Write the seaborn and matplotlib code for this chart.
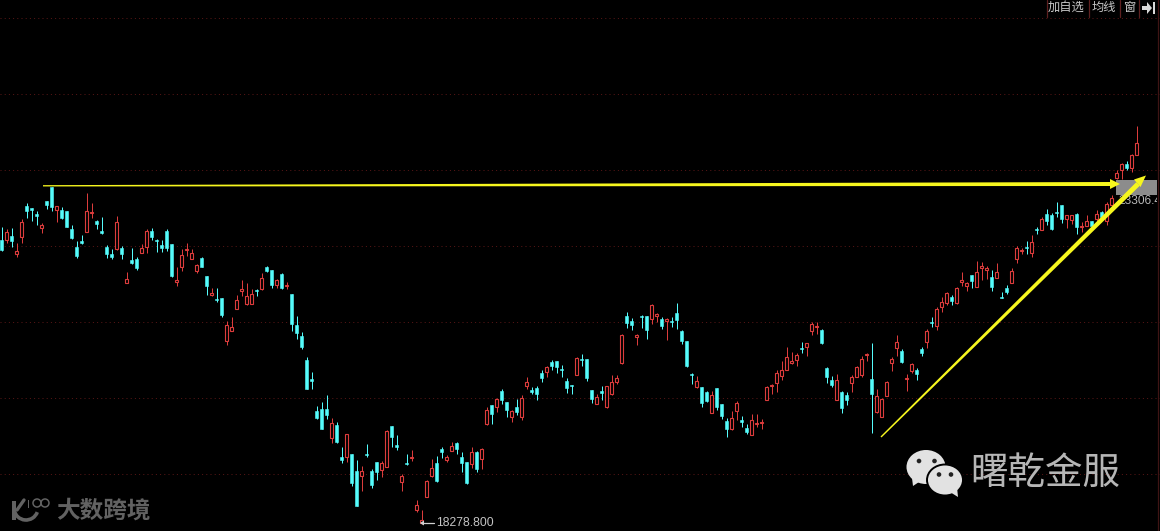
import numpy as np
import pandas as pd
import seaborn as sns
import matplotlib
matplotlib.use("Agg")
import matplotlib.pyplot as plt
from matplotlib.patches import Ellipse, Polygon, Rectangle, Arc

# ---------- data: daily index candles ----------
highs = [22700,22660,22675,22450,22810,23050,22985,22930,22750,23085,23290,23010,22990,22935,22725,22485,22575,23205,23055,22800,22845,22420,22365,22860,22410,22020,22380,22245,22440,22660,22680,22515,22500,22665,22440,22095,22365,22455,22365,22140,22245,21960,21780,21780,21630,21285,21345,21675,21900,21855,21765,21765,22005,22110,22050,21915,22005,21870,21690,21360,
 21120,20740,20520,20010,20070,20175,19830,19770,19395,19590,19290,19200,19110,19440,19065,19170,19185,19650,19710,19575,18990,19290,19350,18600,18450,18900,19215,19260,19395,19275,19470,19470,19320,19170,19395,19335,19380,19995,20025,20130,
 20265,20070,19950,20115,20175,20445,20295,20310,20550,20610,20700,20685,20625,20430,20325,20745,20790,20715,20250,20190,20310,20310,20475,20475,21090,21420,21330,21090,21375,21360,21540,21405,21345,21330,21345,21555,21150,20985,20505,20460,20295,20235,20235,20280,20040,19830,19935,20085,19860,19740,19890,19890,19815,20310,20340,20550,
 20685,20895,20820,20805,20970,20955,21270,21270,21165,20595,20460,20490,20235,20220,20475,20610,20760,20805,20955,20265,20130,20385,20745,21075,20865,20490,20655,20580,20895,21165,21345,21495,21645,21720,21675,21795,22020,21870,
 21975,22185,22170,22110,22050,22155,21720,21825,22080,22410,22380,22485,22575,22695,22845,22965,22905,23070,23025,22875,22875,22905,22770,22875,22785,22950,22935,23070,23175,23550,23655,23685,23790,24210]
lows = [22335,22460,22400,22250,22460,22835,22790,22725,22610,22970,22940,22775,22810,22700,22510,22235,22440,22620,22835,22665,22585,22235,22220,22350,22220,21855,22140,22055,22305,22305,22500,22320,22325,22335,21945,21810,22035,22260,22215,22005,22095,21675,21660,21570,21345,20925,21130,21465,21660,21525,21540,21660,21750,22020,21780,21780,21765,21765,21135,21015,
 20870,20270,20270,19815,19660,19815,19460,19460,19155,19170,18810,18515,18735,19245,18780,18900,18945,19095,19395,19350,18735,19125,19185,18420,18240,18645,18945,18870,19230,19170,19335,19290,19020,18840,19080,19020,19065,19725,19740,19920,
 20040,19845,19770,19875,19800,20265,20190,20100,20370,20445,20550,20505,20445,20205,20190,20475,20610,20385,20055,20040,20100,19980,20175,20340,20640,21180,21150,20925,21180,21015,21240,21270,21165,21000,21195,21165,20940,20595,20340,20280,19995,20070,19905,19950,19815,19545,19650,19800,19695,19590,19575,19695,19665,20100,20190,20220,
 20400,20550,20640,20610,20805,20760,21075,21090,20940,20355,20295,20100,19905,20025,20220,20445,20445,20685,19605,19905,19845,20160,20535,20760,20655,20235,20505,20400,20760,20880,21195,21150,21420,21525,21525,21540,21810,21735,
 21780,21795,21900,21915,21735,21930,21630,21690,21855,22155,22290,22290,22245,22590,22650,22725,22650,22845,22755,22680,22740,22590,22620,22710,22680,22770,22800,22725,23000,23415,23415,23550,23520,23775]
body_top = [22500,22620,22560,22335,22770,23010,22975,22885,22725,23085,23290,23010,22950,22935,22665,22395,22490,22935,22920,22790,22635,22395,22295,22770,22380,21915,22200,22215,22380,22635,22635,22500,22425,22635,22440,21900,22275,22370,22305,22125,22230,21960,21705,21615,21630,21225,21195,21600,21765,21660,21690,21750,21930,22095,22050,21900,21990,21825,21690,21225,
 21060,20700,20415,19935,19965,19965,19755,19725,19245,19590,19290,19035,19035,19290,19035,19170,19155,19635,19710,19425,18960,19155,19250,18525,18300,18885,19080,19155,19365,19245,19410,19455,19245,19170,19320,19320,19365,19950,20025,20115,
 20235,20070,19935,19995,20130,20370,20245,20280,20505,20595,20670,20685,20565,20385,20325,20730,20715,20715,20250,20145,20235,20310,20370,20430,21075,21360,21285,21075,21360,21360,21525,21385,21315,21315,21285,21405,21135,20985,20490,20385,20295,20220,20175,20280,20040,19785,19830,20055,19800,19680,19800,19755,19770,20295,20330,20505,
 20550,20745,20685,20775,20880,20955,21240,21210,21150,20580,20400,20400,20220,20175,20445,20595,20715,20785,20415,20160,20115,20370,20715,20970,20835,20430,20640,20550,20865,21135,21270,21465,21570,21705,21645,21780,21900,21855,
 21975,22020,22110,22080,21945,22020,21645,21780,22035,22380,22350,22395,22470,22665,22815,22890,22875,22920,23025,22875,22875,22890,22710,22785,22785,22890,22920,23040,23130,23505,23640,23640,23775,23955]
body_bottom = [22350,22500,22485,22290,22550,22940,22950,22865,22680,23025,23000,22945,22835,22700,22530,22260,22455,22620,22900,22740,22600,22295,22245,22365,22290,21855,22155,22080,22305,22395,22545,22480,22380,22380,21960,21870,22095,22350,22215,22035,22095,21810,21675,21600,21375,20985,21135,21465,21735,21540,21540,21730,21765,22035,21825,21825,21780,21805,21240,21105,
 20890,20270,20390,19830,19670,19875,19530,19470,19200,19245,18855,18515,18960,19275,18825,19020,19050,19095,19545,19395,18870,19140,19235,18450,18250,18645,18960,18885,19320,19200,19335,19365,19155,18855,19140,19065,19215,19740,19890,19995,
 20100,19950,19845,19920,19845,20310,20225,20190,20430,20520,20610,20595,20545,20280,20305,20475,20695,20430,20115,20040,20210,19995,20190,20370,20655,21255,21225,21050,21340,21150,21315,21365,21210,21285,21265,21300,20985,20610,20470,20295,20055,20085,19905,19995,19860,19665,19665,19935,19765,19620,19575,19740,19755,20100,20315,20355,
 20460,20550,20655,20700,20865,20895,21135,21195,20955,20445,20325,20100,19980,20100,20355,20445,20475,20770,20190,19920,19845,20160,20655,20880,20670,20410,20535,20490,20805,20970,21250,21210,21495,21555,21585,21555,21870,21810,
 21885,21795,22085,22050,21795,21930,21630,21720,21855,22215,22335,22375,22305,22650,22650,22785,22665,22905,22815,22815,22800,22695,22695,22710,22710,22815,22850,22785,23025,23430,23550,23580,23580,23775]
direction = list(
 "CRCRRCCCRCCRCCCCCRRCCCCRCRCCRRCCCCCRRRRRCCRCCRRRRRRCRCCRCRCC"
 "CCCCCCRCCRCCRCCCRRCCRCRRRRRCCRRCCCRCRRCR"
 "CCRCRRCCCRCCCCCRCCCRCRRRRCCRCCRRCRCCCCCRCCRCCCRRCCRRRRRR"
 "RRRRCRRRCCCRCCRRRRCRRRRRCRRCCRCRRRCRRR"
 "CRRRCRCCRRRCRCRCCCCRRCRRCRCRRRRCRR")
grid_levels = [25830, 24690, 23550, 22410, 21270, 20130, 18990]
low_label = "18278.800"
last_label = "23306.4"
toolbar_labels = ["加自选", "均线", "窗"]
brand_cn = "曙乾金服"
brand_logo = "大数跨境"

CYAN, RED = "#55FCFC", "#DC3C3C"
GRID = "#581616"

sns.set_theme(style="dark", rc={"figure.facecolor": "black", "axes.facecolor": "black"})
plt.rcParams["font.family"] = ["Noto Sans CJK SC", "DejaVu Sans"]

df = pd.DataFrame({"i": np.arange(len(highs)), "high": highs, "low": lows,
                   "top": body_top, "bottom": body_bottom, "dir": direction})
df["size"] = df["top"] - df["bottom"]

fig = plt.figure(figsize=(11.6, 5.31), dpi=100)
ax = fig.add_axes([0, 0, 1, 1])
ax.set_axisbelow(True)
for d, col in (("C", CYAN), ("R", RED)):
    s = df[df["dir"] == d]
    ax.vlines(s["i"], s["low"], s["high"], color=col, lw=0.72, zorder=2)
    if d == "C":
        sns.barplot(x=s["i"].values, y=s["size"].values, bottom=s["bottom"].values, ax=ax,
                    native_scale=True, color=col, saturation=1, width=0.64, errorbar=None,
                    edgecolor=col, linewidth=0.4, zorder=3)
    else:
        sns.barplot(x=s["i"].values, y=s["size"].values, bottom=s["bottom"].values, ax=ax,
                    native_scale=True, color="black", saturation=1, width=0.56, errorbar=None,
                    edgecolor=col, linewidth=0.8, zorder=3)
ax.set_xlim(-0.3, 231.7)
ax.set_ylim(18135, 26100)
ax.set_xticks([])
ax.set_yticks(grid_levels)
ax.tick_params(left=False, labelleft=False, bottom=False, labelbottom=False)
ax.set_xlabel(""); ax.set_ylabel("")
ax.grid(False)
ax.yaxis.grid(True, color=GRID, lw=0.72, ls=(0, (1.0, 3.2)))
for sp in ax.spines.values():
    sp.set_visible(False)

# ---------- overlay in picture units: toolbar, price tags, hand-drawn arrows, watermarks ----------
ov = fig.add_axes([0, 0, 1, 1], facecolor="none")
ov.set_xlim(0, 1160); ov.set_ylim(531, 0); ov.axis("off")

for x in (1047, 1088.5, 1119.5, 1139):
    ov.plot([x, x], [0, 17], color="#5E2020", lw=0.9, zorder=2)
ov.plot([1157.5, 1157.5], [0, 531], color="#3E1414", lw=0.9, zorder=2)
for t, x in zip(toolbar_labels, (1066, 1103.5, 1129)):
    ov.text(x, 7.5, t, color="#C8C8C8", fontsize=8.8, ha="center", va="center", zorder=3)
ov.add_patch(Rectangle((1142, 6), 5, 4, color="#D8D8D8", lw=0, zorder=3))
ov.add_patch(Polygon([(1147, 2), (1152, 8), (1147, 14)], color="#D8D8D8", lw=0, zorder=3))
ov.add_patch(Rectangle((1152.5, 2), 2, 12, color="#D8D8D8", lw=0, zorder=3))

ov.add_patch(Rectangle((1116, 180), 41, 15, color="#8C8C8C", lw=0, zorder=4))
tag = ov.text(1118, 201, last_label, color="#B8B8B8", fontsize=8.6, family="Liberation Sans",
              ha="left", va="center", zorder=5)
tag.set_clip_path(Rectangle((1100, 190), 57, 25, transform=ov.transData))
tag.set_clip_on(True)
ov.plot([421, 434], [523, 523], color="#D0D0D0", lw=0.9, zorder=5)
ov.add_patch(Polygon([(420, 523), (424, 520.5), (424, 525.5)], color="#D0D0D0", lw=0, zorder=5))
ov.text(436, 523, low_label, color="#C4C4C4", fontsize=8.7, family="Liberation Sans",
        ha="left", va="center", zorder=5)


def taper(p0, p1, w0, w1, tip, head):
    (x0, y0), (x1, y1) = p0, p1
    L = np.hypot(x1 - x0, y1 - y0)
    nx, ny = -(y1 - y0) / L, (x1 - x0) / L
    pts = [(x0 + nx * w0 / 2, y0 + ny * w0 / 2), (x1 + nx * w1 / 2, y1 + ny * w1 / 2),
           (x1 - nx * w1 / 2, y1 - ny * w1 / 2), (x0 - nx * w0 / 2, y0 - ny * w0 / 2)]
    ov.add_patch(Polygon(pts, color="#F6F61E", lw=0, zorder=6))
    ov.add_patch(Polygon([tip] + head, color="#F6F61E", lw=0, zorder=6))


taper((43, 185.8), (1112, 184), 1.3, 4.0, (1120, 184), [(1110, 179), (1110, 189)])
taper((881, 437), (1138, 184), 1.4, 5.0, (1146, 175.5), [(1134, 179.5), (1140.5, 187)])

# WeChat mark + brand
W = "#E2E2E2"
ov.add_patch(Polygon([(912, 478), (913, 486), (922, 480)], color=W, lw=0, zorder=7))
ov.add_patch(Ellipse((926, 467), 39, 34, color=W, lw=0, zorder=7))
ov.add_patch(Ellipse((945, 480), 36, 31, facecolor=W, edgecolor="black", lw=1.4, zorder=8))
ov.add_patch(Polygon([(950, 492), (958, 497), (957, 487)], color=W, lw=0, zorder=8))
for cx, cy, z in ((919, 461, 7.5), (934.5, 461, 7.5), (939, 474.5, 9), (951, 474.5, 9)):
    ov.add_patch(Ellipse((cx, cy), 4.6, 4.6, color="#222222", lw=0, zorder=z))
ov.text(1045, 473, brand_cn, color="#B6B6B6", fontsize=27, fontweight="light",
        ha="center", va="center", zorder=7)

# logo lower-left
G = "#626262"
ov.add_patch(Rectangle((12, 501), 3.5, 19, color=G, lw=0, zorder=7))
ov.add_patch(Arc((26, 508), 24, 24, theta1=20, theta2=170, color=G, lw=2.6, zorder=7))
ov.plot([17, 24], [510, 500], color=G, lw=2.4, zorder=7)
ov.add_patch(Rectangle((27.5, 500), 1.5, 8, color=G, lw=0, zorder=7))
ov.add_patch(Ellipse((37, 503), 8, 8, fill=False, edgecolor=G, lw=1.1, zorder=7))
ov.add_patch(Ellipse((45, 503), 8, 8, fill=False, edgecolor=G, lw=1.1, zorder=7))
ov.text(103, 511, brand_logo, color=G, fontsize=17, fontweight="bold",
        ha="center", va="center", zorder=7)

fig.savefig("out.png", dpi=100, facecolor="black")
